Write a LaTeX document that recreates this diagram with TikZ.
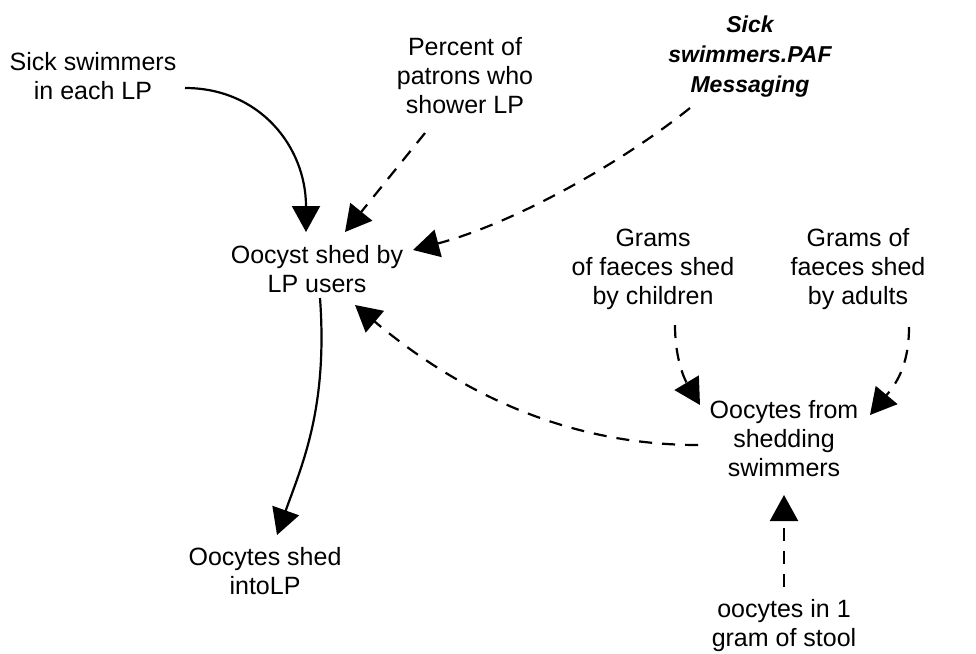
\documentclass[tikz,border=0pt]{standalone}
\usepackage{fontspec}
\setmainfont{Liberation Sans}
\usetikzlibrary{arrows.meta}
\begin{document}
\begin{tikzpicture}[x=1pt,y=-1pt,
  lbl/.style={align=center,inner sep=0pt,font=\fontsize{25}{29}\selectfont},
  emph/.style={align=center,inner sep=0pt,font=\fontsize{23}{30}\selectfont\bfseries\itshape},
  link/.style={line width=2.2pt,-{Triangle[length=26pt,width=28pt]}},
  weak/.style={link,dash pattern=on 13pt off 10pt}]
\useasboundingbox (0,0) rectangle (976,653);

% variables
\node[lbl] (sick) at (93,76) {Sick swimmers\\in each LP};
\node[lbl] (pct) at (465,76) {Percent of\\patrons who\\shower LP};
\node[emph] (paf) at (750,57) {Sick\\swimmers.PAF\\Messaging};
\node[lbl] (shed) at (317,269) {Oocyst shed by\\LP users};
\node[lbl] (gch) at (653,269) {Grams\\of faeces shed\\by children};
\node[lbl] (gad) at (858,269) {Grams of\\faeces shed\\by adults};
\node[lbl] (from) at (784,439) {Oocytes from\\shedding\\swimmers};
\node[lbl] (into) at (265,571) {Oocytes shed\\intoLP};
\node[lbl] (stool) at (784,626) {oocytes in 1\\gram of stool};

% solid links
\draw[link] ([shift={(92,12)}]sick.center) .. controls +(75,0) and +(0,-85) .. ([shift={(-11,-37)}]shed.center);
\draw[link] ([shift={(3,29)}]shed.center) .. controls +(8,110) and +(25,-70) .. ([shift={(12,-36)}]into.center);

% dashed links
\draw[weak] ([shift={(-40,57)}]pct.center) -- ([shift={(28,-37)}]shed.center);
\draw[weak] ([shift={(-60,51)}]paf.center) .. controls +(-75,60) and +(95,-25) .. ([shift={(96,-19)}]shed.center);
\draw[weak] ([shift={(-86,6)}]from.center) .. controls +(-140,0) and +(95,80) .. ([shift={(38,36)}]shed.center);
\draw[weak] ([shift={(22,56)}]gch.center) .. controls +(0,35) and +(-15,-25) .. ([shift={(-84,-34)}]from.center);
\draw[weak] ([shift={(51,58)}]gad.center) .. controls +(0,40) and +(25,-30) .. ([shift={(86,-24)}]from.center);
\draw[weak] ([shift={(0,-39)}]stool.center) -- ([shift={(0,56)}]from.center);
\end{tikzpicture}
\end{document}
